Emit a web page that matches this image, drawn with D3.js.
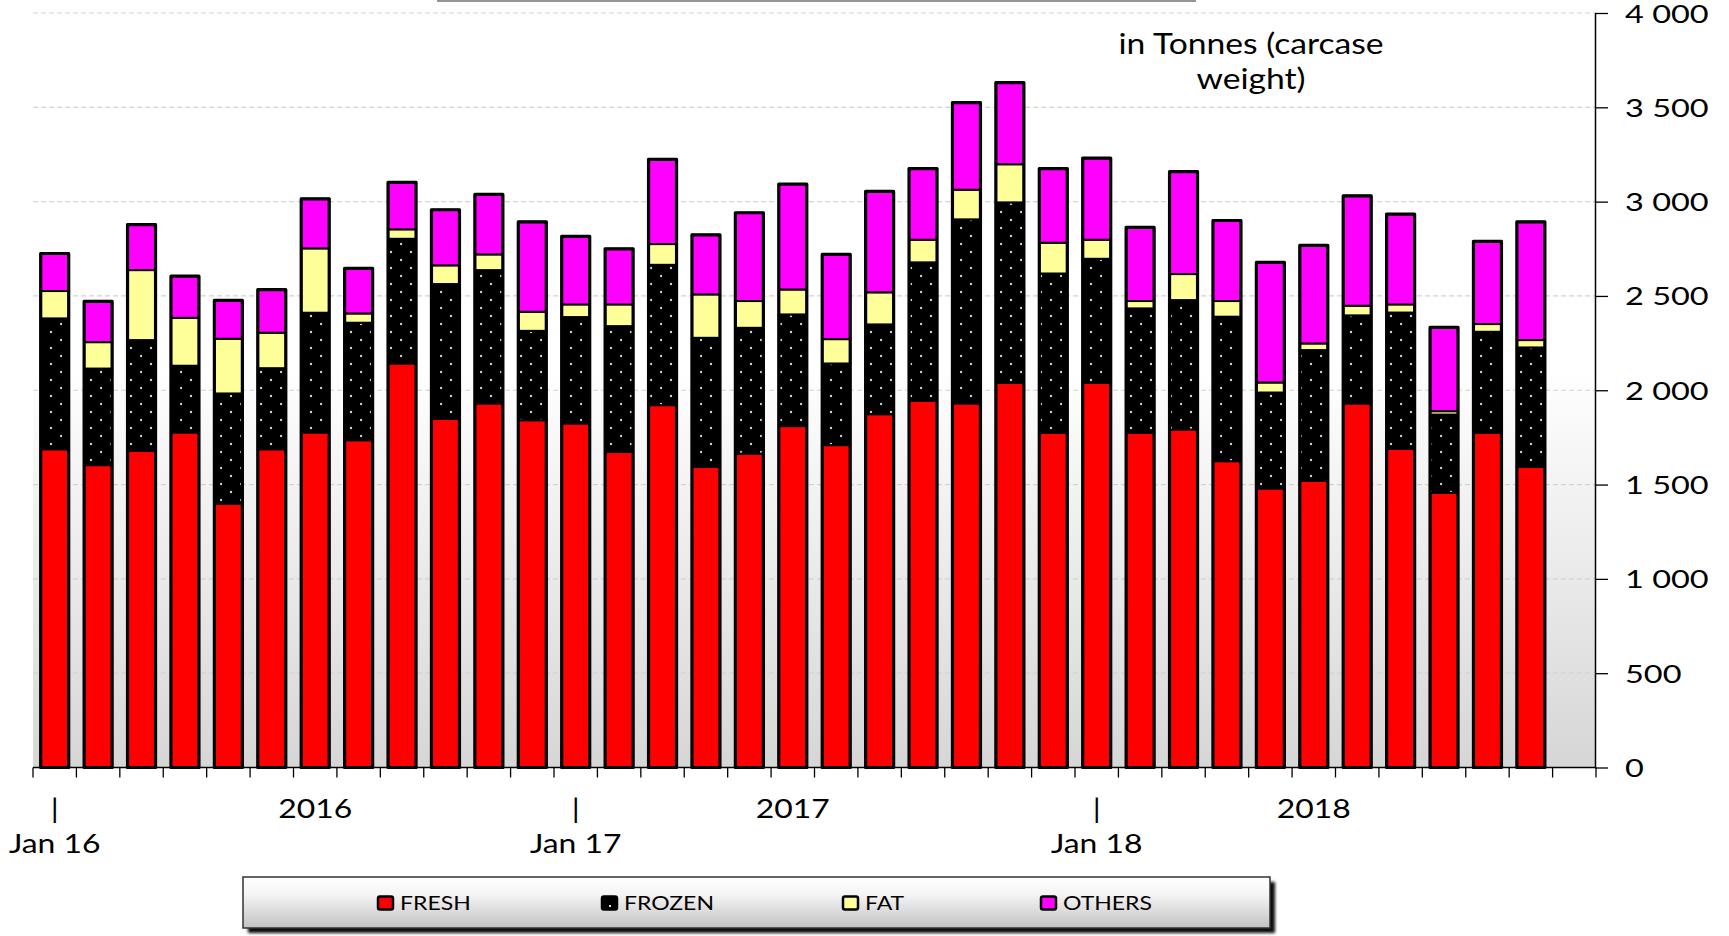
<!DOCTYPE html>
<html><head><meta charset="utf-8">
<script src="https://cdn.jsdelivr.net/npm/d3@7"></script>
<style>
body{margin:0;background:#fff;}
svg{display:block;}
text{font-family:Lato,"Open Sans",sans-serif;fill:#000;}
</style>
</head><body>
<svg id="chart" width="1729" height="936"></svg>
<script>
// ---------------- DATA ----------------
const months = ["Jan 16","Feb 16","Mar 16","Apr 16","May 16","Jun 16","Jul 16","Aug 16","Sep 16","Oct 16","Nov 16","Dec 16",
                "Jan 17","Feb 17","Mar 17","Apr 17","May 17","Jun 17","Jul 17","Aug 17","Sep 17","Oct 17","Nov 17","Dec 17",
                "Jan 18","Feb 18","Mar 18","Apr 18","May 18","Jun 18","Jul 18","Aug 18","Sep 18","Oct 18","Nov 18","Dec 18"];
const fresh  = [1687,1603,1679,1776,1399,1687,1776,1735,2142,1848,1930,1841,1824,1673,1921,1594,1664,1810,1709,1873,1944,1930,2039,1774,2039,1774,1792,1624,1479,1519,1930,1689,1456,1774,1594,null];
const frozen = [694,512,587,354,584,430,635,623,661,715,707,474,564,667,744,684,667,592,433,476,734,976,957,845,658,660,686,766,509,694,467,723,415,536,633,null];
const fat    = [145,140,371,254,290,188,341,49,50,99,83,101,67,115,110,230,142,132,129,170,120,157,202,163,101,39,138,83,53,35,51,43,18,41,39,null];
const others = [199,216,241,221,203,228,263,239,249,295,318,477,361,295,449,316,468,559,449,535,377,462,433,393,433,390,543,427,637,520,583,479,444,438,627,null];

const seriesKeys   = ["fresh","frozen","fat","others"];
const seriesNames  = ["FRESH","FROZEN","FAT","OTHERS"];
const seriesColors = ["#ff0000","url(#dots)","#ffff99","#ff00ff"];

const yTicks      = [0,500,1000,1500,2000,2500,3000,3500,4000];
const yTickLabels = ["0","500","1 000","1 500","2 000","2 500","3 000","3 500","4 000"];

const janMonths   = ["Jan 16","Jan 17","Jan 18"];
const yearMonths  = ["Jul 16","Jun 17","Jun 18"];
const yearLabels  = ["2016","2017","2018"];
const unitLines   = ["in Tonnes (carcase","weight)"];

// ---------------- LAYOUT ----------------
const L = {
  plotLeft:33, plotRight:1596, plotTop:13, plotBottom:767.5,
  sx:1.18, sxY:1.3,
  legend:{x:243, y:877, w:1027, h:51, itemX:[378,602,843,1041]}
};

const svg = d3.select("#chart");
const defs = svg.append("defs");

const bg = defs.append("linearGradient").attr("id","bgGrad").attr("x1",0).attr("y1",0).attr("x2",0).attr("y2",1);
bg.append("stop").attr("offset","0").attr("stop-color","#ffffff");
bg.append("stop").attr("offset","0.48").attr("stop-color","#ffffff");
bg.append("stop").attr("offset","1").attr("stop-color","#d6d6d6");

const lg = defs.append("linearGradient").attr("id","legGrad").attr("x1",0).attr("y1",0).attr("x2",0).attr("y2",1);
lg.append("stop").attr("offset","0").attr("stop-color","#ffffff");
lg.append("stop").attr("offset","0.35").attr("stop-color","#f4f4f4");
lg.append("stop").attr("offset","1").attr("stop-color","#c2c2c2");

const pat = defs.append("pattern").attr("id","dots").attr("patternUnits","userSpaceOnUse")
  .attr("width",20).attr("height",16);
pat.append("rect").attr("width",20).attr("height",16).attr("fill","#000");
pat.append("circle").attr("cx",1).attr("cy",4).attr("r",1.2).attr("fill","#d0d0d0");
pat.append("circle").attr("cx",11).attr("cy",12).attr("r",1.2).attr("fill","#d0d0d0");

const sh = defs.append("filter").attr("id","shadow").attr("x","-5%").attr("y","-20%").attr("width","115%").attr("height","160%");
sh.append("feGaussianBlur").attr("stdDeviation",1.5);

// helper for horizontally stretched text
function txt(parent, x, y, s, size, anchor){
  return parent.append("g").attr("transform",`translate(${x},${y}) scale(${L.sx},1)`)
    .append("text").attr("font-size",size).attr("text-anchor",anchor||"start").text(s);
}

// ---------------- SCALES ----------------
const x = d3.scaleBand().domain(months).range([L.plotLeft,L.plotRight]).paddingInner(0.355).paddingOuter(0.1775);
const y = d3.scaleLinear().domain([0,4000]).range([L.plotBottom,L.plotTop]);

// plot background
svg.append("rect").attr("x",L.plotLeft).attr("y",0).attr("width",L.plotRight-L.plotLeft)
  .attr("height",L.plotBottom).attr("fill","url(#bgGrad)");

// top frame remnant
svg.append("rect").attr("x",438).attr("y",-40).attr("width",757).attr("height",41)
  .attr("fill","#fff").attr("stroke","#8a8a8a").attr("stroke-width",1.8);

// gridlines
svg.append("g").selectAll("line").data(yTicks.filter(d=>d>0)).join("line")
  .attr("x1",L.plotLeft).attr("x2",L.plotRight)
  .attr("y1",d=>y(d)).attr("y2",d=>y(d))
  .attr("stroke","#d2d2d2").attr("stroke-width",1.2).attr("stroke-dasharray","5,3");

// unit text
unitLines.forEach((s,i)=> txt(svg, 1251, 54 + i*35, s, 28.5, "middle"));

// ---------------- BARS ----------------
const rows = months.map((m,i)=>({month:m, fresh:fresh[i], frozen:frozen[i], fat:fat[i], others:others[i]}))
  .filter(r=>r.fresh!=null);
const stacked = d3.stack().keys(seriesKeys)(rows);

const barG = svg.append("g");
stacked.forEach((layer,li)=>{
  barG.append("g").selectAll("rect").data(layer).join("rect")
    .attr("x",d=>x(d.data.month)).attr("width",x.bandwidth())
    .attr("y",d=>y(d[1])).attr("height",d=>y(d[0])-y(d[1]))
    .attr("fill",seriesColors[li]).attr("stroke","#000").attr("stroke-width",2);
});
const topLayer = stacked[stacked.length-1];
barG.append("g").selectAll("rect").data(topLayer).join("rect")
  .attr("x",d=>x(d.data.month)).attr("width",x.bandwidth())
  .attr("y",d=>y(d[1])).attr("height",d=>y(0)-y(d[1]))
  .attr("fill","none").attr("stroke","#000").attr("stroke-width",3.2).attr("stroke-linejoin","round");

// ---------------- AXES ----------------
// x axis
const gap = x.step()-x.bandwidth();
const bounds = months.map(m=>x(m)-gap/2).concat([L.plotRight]);
const xa = svg.append("g");
xa.append("line").attr("x1",L.plotLeft).attr("x2",L.plotRight).attr("y1",y(0)).attr("y2",y(0))
  .attr("stroke","#000").attr("stroke-width",1.5);
xa.selectAll("line.t").data(bounds).join("line").attr("class","t")
  .attr("x1",d=>d).attr("x2",d=>d).attr("y1",y(0)).attr("y2",y(0)+10)
  .attr("stroke","#000").attr("stroke-width",1.3);
janMonths.forEach(m=>{
  txt(svg, x(m)+x.bandwidth()/2, 818, "|", 27, "middle");
  txt(svg, x(m)+x.bandwidth()/2, 853, m, 27, "middle");
});
yearMonths.forEach((m,i)=> txt(svg, x(m)+x.bandwidth()/2, 818, yearLabels[i], 27, "middle"));

// y axis (right)
const ya = svg.append("g").attr("transform",`translate(${L.plotRight-1},0)`)
  .call(d3.axisRight(y).tickValues(yTicks).tickSize(13).tickSizeOuter(0).tickFormat((d,i)=>yTickLabels[i]));
ya.select(".domain").attr("stroke","#000").attr("stroke-width",1.5);
ya.selectAll(".tick line").attr("stroke","#000").attr("stroke-width",1.3);
ya.selectAll(".tick text").attr("font-size",25).attr("font-family","Lato, sans-serif")
  .attr("x",30/L.sxY).attr("dy","0.36em").attr("transform",`scale(${L.sxY},1)`)
  .attr("fill","#000");

// ---------------- LEGEND ----------------
const lgG = svg.append("g");
lgG.append("rect").attr("x",L.legend.x+5).attr("y",L.legend.y+5).attr("width",L.legend.w).attr("height",L.legend.h)
  .attr("fill","#111").attr("filter","url(#shadow)");
lgG.append("rect").attr("x",L.legend.x).attr("y",L.legend.y).attr("width",L.legend.w).attr("height",L.legend.h)
  .attr("fill","url(#legGrad)").attr("stroke","#333").attr("stroke-width",1.5);
seriesNames.forEach((n,i)=>{
  const lx = L.legend.itemX[i];
  lgG.append("rect").attr("x",lx).attr("y",896.5).attr("width",15).attr("height",13).attr("rx",2)
    .attr("fill", i===1 ? "#000" : seriesColors[i]).attr("stroke","#000").attr("stroke-width",2.5);
  if(i===1) lgG.append("rect").attr("x",lx+7).attr("y",905).attr("width",2).attr("height",2).attr("fill","#ddd");
  txt(lgG, lx+22, 910, n, 19.5, "start");
});
</script>
</body></html>
